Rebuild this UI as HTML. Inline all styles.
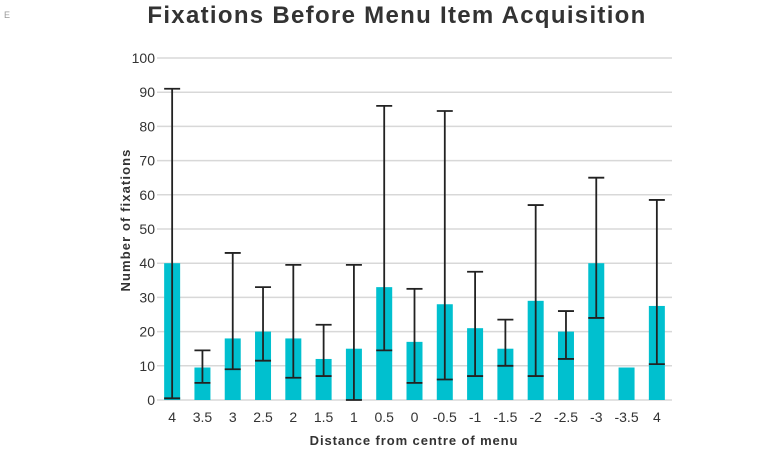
<!DOCTYPE html>
<html><head><meta charset="utf-8"><style>
body{margin:0;background:#fff;font-family:"Liberation Sans",sans-serif;}
</style></head><body>
<svg id="chart" width="768" height="450" xmlns="http://www.w3.org/2000/svg">
<text x="4" y="18" font-size="9" fill="#999">E</text>
<text x="397" y="23" text-anchor="middle" font-size="24" font-weight="bold" fill="#333" letter-spacing="1.3">Fixations Before Menu Item Acquisition</text>
<text transform="translate(130,220) rotate(-90)" text-anchor="middle" font-size="13" font-weight="bold" fill="#333" letter-spacing="1.1">Number of fixations</text>
<text x="414" y="445" text-anchor="middle" font-size="13" font-weight="bold" fill="#333" letter-spacing="0.9">Distance from centre of menu</text>
<g id="grid"></g><g id="bars"></g><g id="errs"></g><g id="xt"></g>
</svg>
<script>
const categories=["4","3.5","3","2.5","2","1.5","1","0.5","0","-0.5","-1","-1.5","-2","-2.5","-3","-3.5","4"];
const values=[40,9.5,18,20,18,12,15,33,17,28,21,15,29,20,40,9.5,27.5];
const errLow=[0.5,5,9,11.5,6.5,7,0,14.5,5,6,7,10,7,12,24,null,10.5];
const errHigh=[91,14.5,43,33,39.5,22,39.5,86,32.5,84.5,37.5,23.5,57,26,65,null,58.5];
const yTicks=[0,10,20,30,40,50,60,70,80,90,100];
const X0=157,X1=672,Y0=400,Y1=58;
const band=(X1-X0)/categories.length;
const y=v=>Y0-(v/100)*(Y0-Y1);
const xc=i=>X0+band*(i+0.5);
const NS="http://www.w3.org/2000/svg";
function mk(t,a,p){const e=document.createElementNS(NS,t);for(const k in a)e.setAttribute(k,a[k]);p.appendChild(e);return e;}
const g=document.getElementById('grid');
yTicks.forEach(t=>{
 const l=mk('line',{x1:X0,x2:X1,y1:y(t),y2:y(t),stroke:'#d8d8d8','stroke-width':1.5},g);
 
 
 const tx=mk('text',{x:155,y:y(t)+5,'text-anchor':'end','font-size':14,fill:'#333'},g);
 tx.textContent=t;
 
 
});
const b=document.getElementById('bars'),er=document.getElementById('errs'),xt=document.getElementById('xt');
categories.forEach((c,i)=>{
 const r=mk('rect',{x:xc(i)-8,y:y(values[i]),width:16,height:y(0)-y(values[i]),fill:'#00c0cf'},b);
 
 
 if(errLow[i]!==null){
  const eg=mk('g',{stroke:'#222','stroke-width':1.8},er);
  
  
  mk('line',{x1:xc(i),x2:xc(i),y1:y(errLow[i]),y2:y(errHigh[i])},eg);
  mk('line',{x1:xc(i)-8,x2:xc(i)+8,y1:y(errLow[i]),y2:y(errLow[i])},eg);
  mk('line',{x1:xc(i)-8,x2:xc(i)+8,y1:y(errHigh[i]),y2:y(errHigh[i])},eg);
 }
 const t=mk('text',{x:xc(i),y:422,'text-anchor':'middle','font-size':14,fill:'#333'},xt);
 t.textContent=c;
 
 
});
</script>
</body></html>
